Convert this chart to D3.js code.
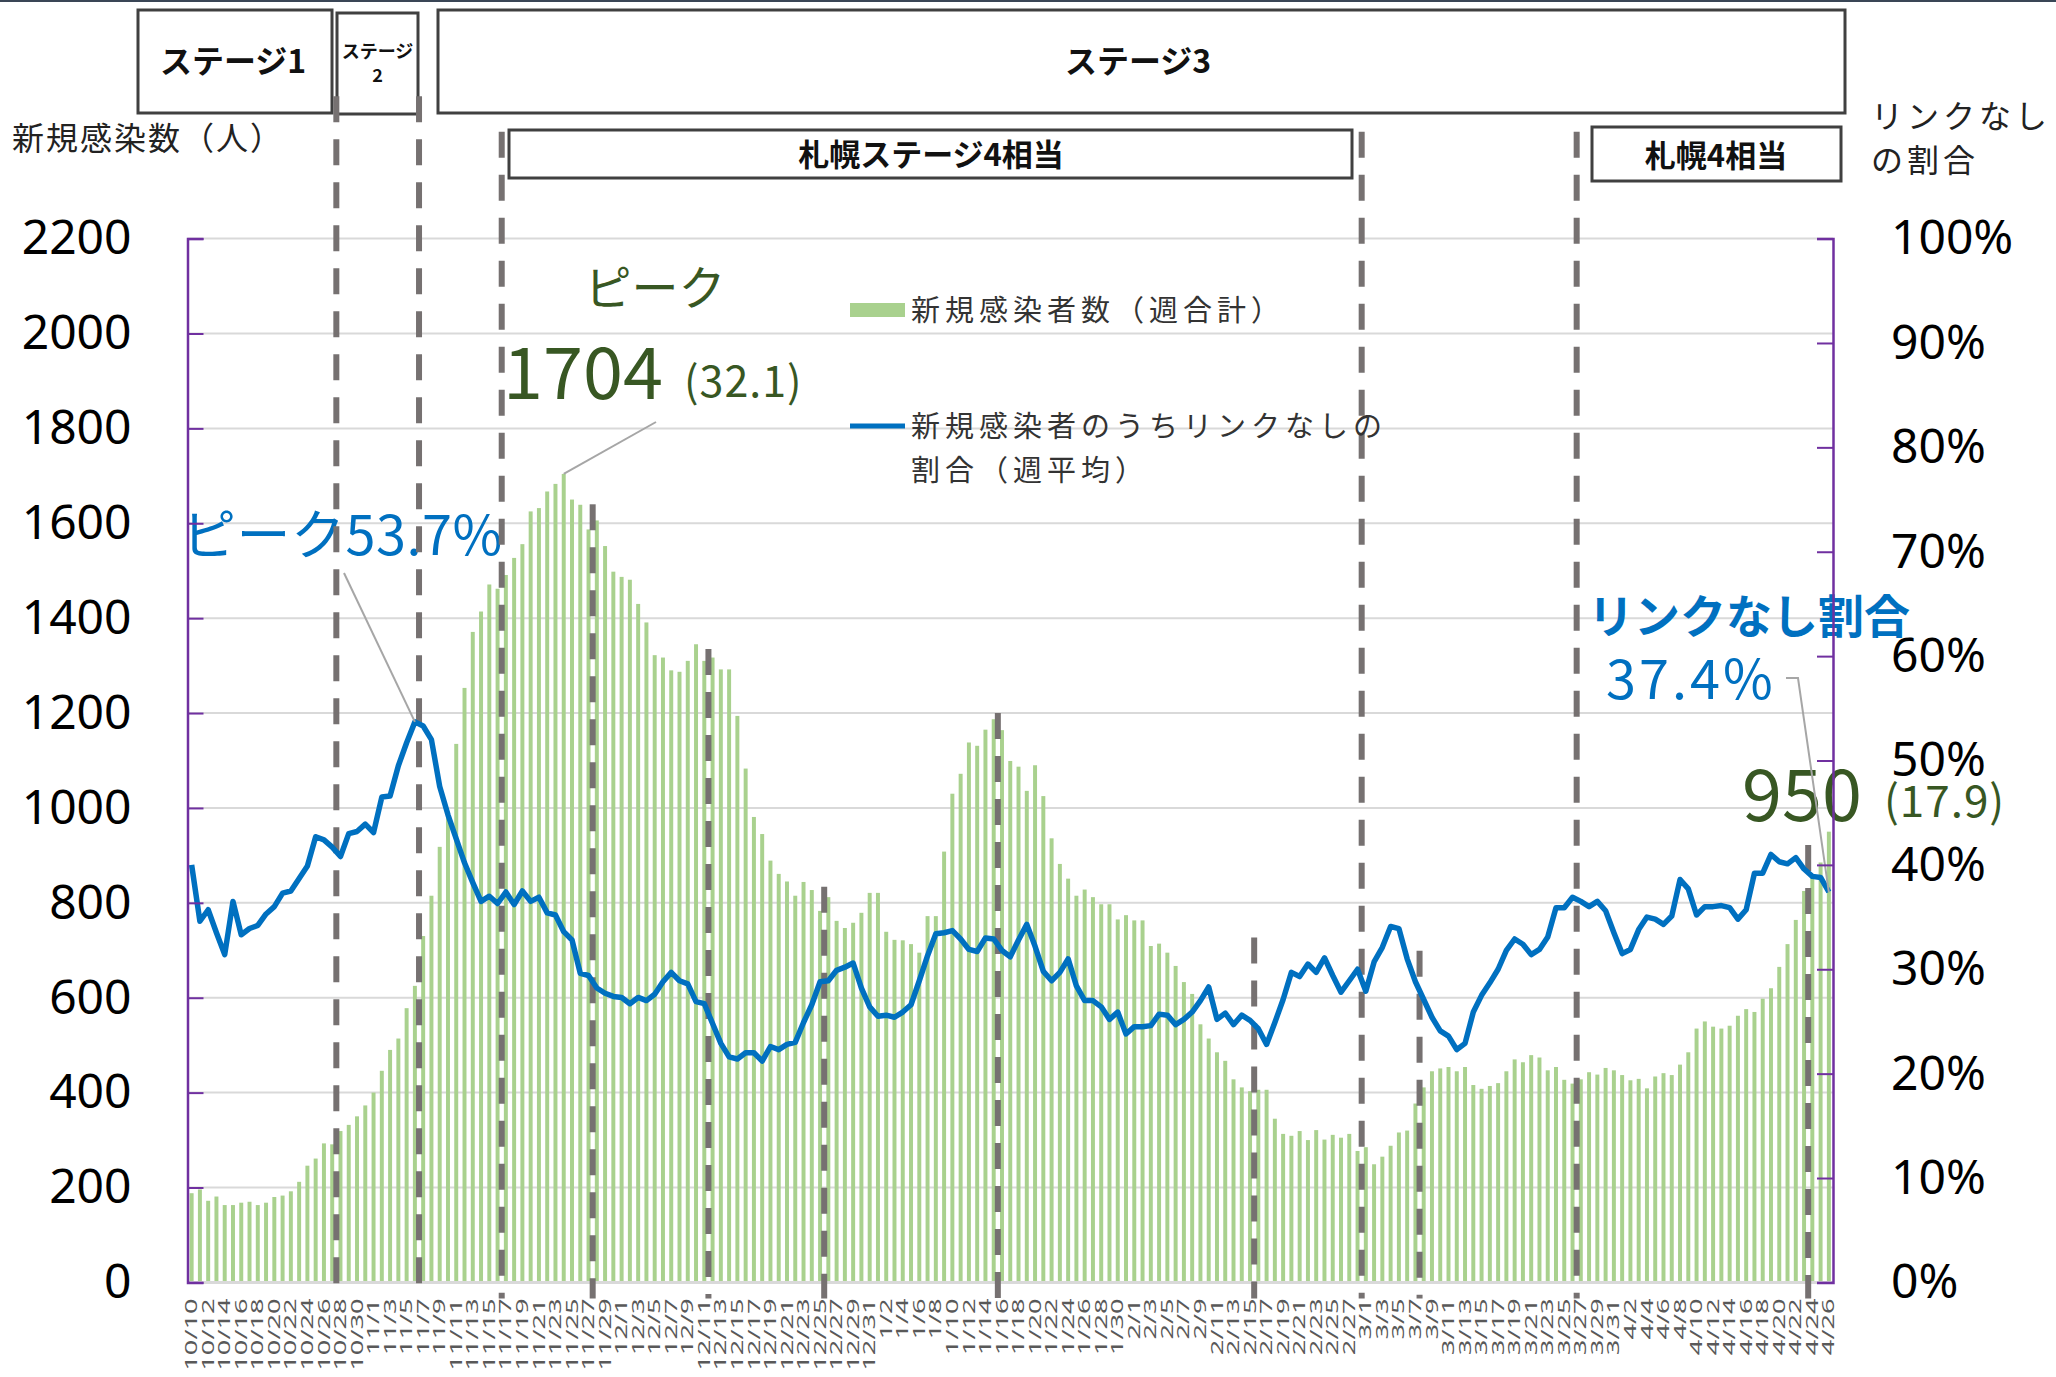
<!DOCTYPE html>
<html>
<head>
<meta charset="utf-8">
<script src="https://cdn.jsdelivr.net/npm/d3@7"></script>
<style>
  body { margin: 0; background: #fff; }
  svg text { font-family: "Noto Sans CJK JP", "Noto Sans", sans-serif; }
</style>
</head>
<body>
<div id="chart"></div>
<script>
// daily new cases (weekly total), 10/10 - 4/26
const cases = [
  188,196,172,181,163,163,168,170,163,168,
  180,183,192,212,246,261,293,291,319,332,
  350,373,400,446,490,514,578,625,730,815,
  918,986,1135,1253,1371,1414,1471,1462,1491,1527,
  1556,1625,1632,1667,1683,1704,1650,1639,1587,1606,
  1552,1498,1487,1481,1430,1391,1322,1317,1290,1287,
  1310,1345,1310,1317,1292,1292,1194,1083,981,945,
  889,861,845,815,844,827,783,812,762,747,
  758,779,821,821,739,722,721,713,695,772,
  772,908,1030,1072,1138,1131,1165,1187,1164,1099,
  1087,1036,1090,1025,936,882,851,815,828,812,
  797,797,765,774,763,763,709,714,695,667,
  633,608,544,514,485,467,428,411,403,406,
  406,345,313,309,319,300,321,301,311,305,
  313,277,285,249,265,288,316,320,377,411,
  445,451,454,445,454,416,408,414,420,445,
  470,464,479,474,447,454,427,419,428,443,
  438,452,447,437,426,429,409,434,441,437,
  459,485,535,550,539,535,541,562,576,570,
  598,620,665,713,764,825,856,885,950
];

// share of cases without known link (weekly average, %)
const ratio = [
  40.0,34.6,35.7,33.5,31.4,36.5,33.3,33.9,34.2,35.3,
  36.0,37.3,37.5,38.7,39.9,42.7,42.4,41.7,40.8,43.0,
  43.2,43.9,43.1,46.5,46.6,49.5,51.7,53.7,53.3,52.0,
  47.5,44.8,42.5,40.2,38.3,36.5,37.0,36.3,37.4,36.2,
  37.5,36.5,36.9,35.4,35.2,33.6,32.8,29.6,29.4,28.2,
  27.7,27.4,27.3,26.7,27.3,27.0,27.6,28.8,29.7,28.9,
  28.6,26.9,26.7,24.8,22.9,21.6,21.4,22.0,22.0,21.2,
  22.6,22.3,22.8,23.0,24.9,26.6,28.8,28.9,29.9,30.2,
  30.6,28.2,26.4,25.5,25.6,25.4,25.9,26.6,28.9,31.3,
  33.4,33.5,33.7,32.9,31.9,31.7,33.0,32.9,31.8,31.2,
  32.8,34.3,32.2,29.8,28.9,29.7,31.0,28.4,27.0,27.0,
  26.4,25.2,25.9,23.8,24.5,24.5,24.6,25.7,25.6,24.7,
  25.2,25.9,27.0,28.3,25.2,25.8,24.7,25.6,25.1,24.3,
  22.8,24.9,27.1,29.7,29.3,30.5,29.7,31.1,29.4,27.8,
  28.9,30.0,27.9,30.7,32.1,34.1,33.9,31.0,28.8,27.1,
  25.4,24.1,23.6,22.3,22.9,25.9,27.5,28.7,30.0,31.8,
  32.9,32.4,31.4,31.9,33.1,35.9,35.9,36.9,36.5,36.0,
  36.5,35.6,33.5,31.5,31.9,33.8,35.0,34.8,34.3,35.1,
  38.6,37.7,35.2,36.0,36.0,36.1,35.9,34.8,35.7,39.2,
  39.2,41.0,40.3,40.1,40.7,39.6,38.9,38.8,37.4
];

// categories: every day from 10/10 to 4/26
const dates = d3.timeDays(new Date(2020, 9, 10), new Date(2021, 3, 27))
  .map(d3.timeFormat("%-m/%-d"));
const dateLabels = dates.filter((d, i) => i % 2 === 0);

const countTicks = [0, 200, 400, 600, 800, 1000, 1200, 1400, 1600, 1800, 2000, 2200];
const pctTicks = [0, 10, 20, 30, 40, 50, 60, 70, 80, 90, 100];

// stage change markers: day index (between days) and top of the dashed line in case units
const stageLines = [
  {at: 17.5, top: 2500}, {at: 27.5, top: 2500}, {at: 37.5, top: 2425},
  {at: 48.5, top: 1640}, {at: 62.5, top: 1335}, {at: 76.5, top: 834},
  {at: 97.5, top: 1200}, {at: 128.5, top: 727}, {at: 141.5, top: 2425},
  {at: 148.5, top: 699}, {at: 167.5, top: 2425}, {at: 195.5, top: 922}
];

const width = 2056, height = 1377;
const margins = {top: 238.6, right: 223, bottom: 94.6, left: 187.5};

const svg = d3.select("#chart")
  .append("svg")
  .attr("width", width)
  .attr("height", height)
  .attr("viewBox", [0, 0, width, height]);

/* Scales */
const xScale = d3.scaleBand()
  .domain(dates)
  .range([margins.left, width - margins.right])
  .paddingInner(0.52)
  .paddingOuter(0.26);

// fractional day index -> x, for markers between days
const xIdx = d3.scaleLinear()
  .domain([-0.5, dates.length - 0.5])
  .range([margins.left, width - margins.right]);

const yLeft = d3.scaleLinear()
  .domain([0, 2200])
  .range([height - margins.bottom, margins.top]);

const yRight = d3.scaleLinear()
  .domain([0, 100])
  .range([height - margins.bottom, margins.top]);

const x0 = margins.left, x1 = width - margins.right, yBase = yLeft(0);

// top border
svg.append("line")
  .attr("x1", 0).attr("x2", width).attr("y1", 1).attr("y2", 1)
  .style("stroke", "#3a4656").style("stroke-width", 2);

/* Gridlines */
svg.append("g")
  .selectAll("line")
  .data(countTicks.filter(d => d > 0))
  .join("line")
    .attr("x1", x0).attr("x2", x1)
    .attr("y1", d => yLeft(d)).attr("y2", d => yLeft(d))
    .style("stroke", "#d9d9d9")
    .style("stroke-width", 2);

/* Bars */
svg.append("g")
  .selectAll("rect")
  .data(cases)
  .join("rect")
    .attr("x", (d, i) => xScale(dates[i]))
    .attr("width", xScale.bandwidth())
    .attr("y", d => yLeft(d))
    .attr("height", d => yBase - yLeft(d))
    .style("fill", "#a9d18e");

// x axis line
svg.append("line")
  .attr("x1", x0).attr("x2", x1).attr("y1", yBase).attr("y2", yBase)
  .style("stroke", "#d9d9d9").style("stroke-width", 3);

/* Annotations (text) */
const ann = svg.append("g");
ann.append("text").attr("x", 655).attr("y", 305).attr("text-anchor", "middle")
  .style("font-size", "47px").style("fill", "#385723").text("ピーク");
ann.append("text").attr("x", 503).attr("y", 399)
  .style("font-size", "72px").style("fill", "#385723").text("1704");
ann.append("text").attr("x", 684).attr("y", 397)
  .style("font-size", "43px").style("letter-spacing", "1px").style("fill", "#385723").text("(32.1)");
ann.append("text").attr("x", 182).attr("y", 555)
  .style("font-size", "54px").style("letter-spacing", "0.5px").style("fill", "#0070c0").text("ピーク53.7%");
ann.append("text").attr("x", 1588).attr("y", 633)
  .style("font-size", "46px").style("font-weight", "bold").style("fill", "#0070c0").text("リンクなし割合");
ann.append("text").attr("x", 1606).attr("y", 699)
  .style("font-size", "54px").style("letter-spacing", "3px").style("fill", "#0070c0").text("37.4%");
ann.append("text").attr("x", 1742).attr("y", 821)
  .style("font-size", "72px").style("fill", "#385723").text("950");
ann.append("text").attr("x", 1884).attr("y", 817)
  .style("font-size", "44px").style("letter-spacing", "1px").style("fill", "#385723").text("(17.9)");

/* Stage boxes */
const boxes = svg.append("g");
const drawBox = (x, y, w, h) => boxes.append("rect")
  .attr("x", x).attr("y", y).attr("width", w).attr("height", h)
  .style("fill", "#fff").style("stroke", "#404040").style("stroke-width", 3);
drawBox(138, 10, 194, 103);
drawBox(337, 13, 81, 101);
drawBox(438, 10, 1407, 103);
drawBox(509, 130, 843, 48);
drawBox(1592, 127, 249, 54);

const boxText = (x, y, size, t) => boxes.append("text")
  .attr("x", x).attr("y", y).attr("text-anchor", "middle")
  .style("font-size", size + "px").style("font-weight", "bold").style("fill", "#111")
  .text(t);
boxText(233, 73, 32, "ステージ1");
boxText(377.5, 58, 18, "ステージ");
boxText(377.5, 82, 18, "2");
boxText(1138, 73, 32, "ステージ3");
boxText(931, 166, 31, "札幌ステージ4相当");
boxText(1716, 167, 31, "札幌4相当");

/* Stage dashed lines */
svg.append("g")
  .selectAll("line")
  .data(stageLines)
  .join("line")
    .attr("x1", d => xIdx(d.at)).attr("x2", d => xIdx(d.at))
    .attr("y1", d => yLeft(d.top)).attr("y2", yBase + 16)
    .style("stroke", "#767171")
    .style("stroke-width", 6)
    .style("stroke-dasharray", "26,17");

/* Ratio line */
const line = d3.line()
  .x((d, i) => xIdx(i))
  .y(d => yRight(d));

svg.append("path")
  .datum(ratio)
  .attr("d", line)
  .style("fill", "none")
  .style("stroke", "#0070c0")
  .style("stroke-width", 5.5)
  .style("stroke-linejoin", "round");

/* Leader lines */
const peakCase = d3.maxIndex(cases), peakRatio = d3.maxIndex(ratio), last = cases.length - 1;
const leader = svg.append("g").style("fill", "none").style("stroke", "#a6a6a6").style("stroke-width", 2);
leader.append("polyline")
  .attr("points", [[656, 422], [xIdx(peakCase), yLeft(cases[peakCase])]].join(" "));
leader.append("polyline")
  .attr("points", [[344, 573], [xIdx(peakRatio), yRight(ratio[peakRatio])]].join(" "));
leader.append("polyline")
  .attr("points", [[1786, 678], [1798, 678], [xIdx(last), yRight(ratio[last])]].join(" "));

/* Axes */
const leftAxis = svg.append("g")
  .attr("transform", `translate(${x0},0)`)
  .call(d3.axisLeft(yLeft).tickValues(countTicks).tickSize(0).tickPadding(56)
    .tickFormat(d3.format("d")));
leftAxis.select(".domain").remove();
leftAxis.selectAll("text")
  .style("font-family", "'Noto Sans', sans-serif").style("font-size", "48px").style("fill", "#000");

const leftTicks = svg.append("g")
  .attr("transform", `translate(${x0},0)`)
  .call(d3.axisRight(yLeft).tickValues(countTicks).tickSize(16).tickFormat(""));
leftTicks.selectAll("line").style("stroke", "#7030a0").style("stroke-width", 2);
leftTicks.select(".domain").style("stroke", "#7030a0").style("stroke-width", 2.5);

const rightAxis = svg.append("g")
  .attr("transform", `translate(${x1},0)`)
  .call(d3.axisRight(yRight).tickValues(pctTicks).tickSize(0).tickPadding(58)
    .tickFormat(d => d + "%"));
rightAxis.select(".domain").remove();
rightAxis.selectAll("text")
  .style("font-family", "'Noto Sans', sans-serif").style("font-size", "48px").style("fill", "#000");

const rightTicks = svg.append("g")
  .attr("transform", `translate(${x1},0)`)
  .call(d3.axisLeft(yRight).tickValues(pctTicks).tickSize(16).tickFormat(""));
rightTicks.selectAll("line").style("stroke", "#7030a0").style("stroke-width", 2);
rightTicks.select(".domain").style("stroke", "#7030a0").style("stroke-width", 2.5);

// x axis labels, rotated and stretched like the original
const xAxis = svg.append("g")
  .attr("transform", `translate(0,${yBase})`)
  .call(d3.axisBottom(xScale).tickValues(dateLabels).tickSize(0));
xAxis.select(".domain").remove();
xAxis.selectAll("text")
  .attr("x", 0).attr("y", 0).attr("dy", "0.35em")
  .attr("text-anchor", "end")
  .attr("transform", "translate(0,16) rotate(-90) scale(1.7,1)")
  .style("font-family", "'Noto Sans', sans-serif")
  .style("font-size", "16px")
  .style("fill", "#595959");

/* Axis titles */
svg.append("text").attr("x", 12).attr("y", 150)
  .style("font-size", "32px").style("letter-spacing", "2px").style("fill", "#222").text("新規感染数（人）");
svg.append("text").attr("x", 1871).attr("y", 128)
  .style("font-size", "32px").style("letter-spacing", "4px").style("fill", "#222").text("リンクなし");
svg.append("text").attr("x", 1871).attr("y", 172)
  .style("font-size", "32px").style("letter-spacing", "4px").style("fill", "#222").text("の割合");

/* Legend */
const legend = svg.append("g");
legend.append("rect").attr("x", 850).attr("y", 303).attr("width", 55).attr("height", 14)
  .style("fill", "#a9d18e");
legend.append("text").attr("x", 911).attr("y", 321)
  .style("font-size", "29px").style("letter-spacing", "5px").style("fill", "#333")
  .text("新規感染者数（週合計）");
legend.append("line").attr("x1", 850).attr("x2", 905).attr("y1", 426).attr("y2", 426)
  .style("stroke", "#0070c0").style("stroke-width", 5);
legend.append("text").attr("x", 911).attr("y", 437)
  .style("font-size", "29px").style("letter-spacing", "5px").style("fill", "#333")
  .text("新規感染者のうちリンクなしの");
legend.append("text").attr("x", 911).attr("y", 481)
  .style("font-size", "29px").style("letter-spacing", "5px").style("fill", "#333")
  .text("割合（週平均）");
</script>
</body>
</html>
